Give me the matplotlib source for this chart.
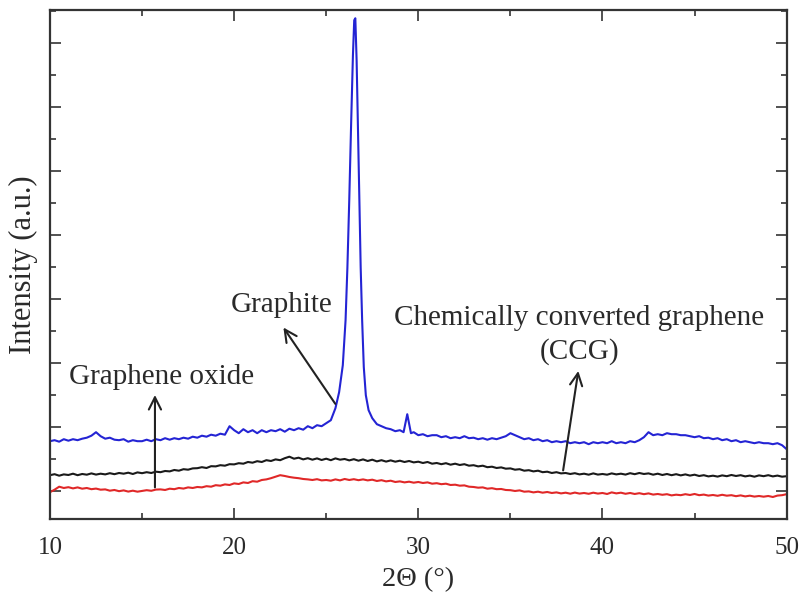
import matplotlib
matplotlib.use("Agg")
import matplotlib.pyplot as plt
from matplotlib.ticker import FixedLocator, MultipleLocator

plt.rcParams["font.family"] = ["Liberation Serif", "DejaVu Serif"]

# XRD patterns, 2-theta in degrees, intensity in arbitrary counts
two_theta = [
    10.0, 10.25, 10.5, 10.75, 11.0, 11.25, 11.5, 11.75, 12.0, 12.25, 12.5, 12.75,
    13.0, 13.25, 13.5, 13.75, 14.0, 14.25, 14.5, 14.75, 15.0, 15.25, 15.5, 15.75,
    16.0, 16.25, 16.5, 16.75, 17.0, 17.25, 17.5, 17.75, 18.0, 18.25, 18.5, 18.75,
    19.0, 19.25, 19.5, 19.75, 20.0, 20.25, 20.5, 20.75, 21.0, 21.25, 21.5, 21.75,
    22.0, 22.25, 22.5, 22.75, 23.0, 23.25, 23.5, 23.75, 24.0, 24.25, 24.5, 24.75,
    25.0, 25.25, 25.5, 25.75, 26.0, 26.25, 26.5, 26.75, 27.0, 27.25, 27.5, 27.75,
    28.0, 28.25, 28.5, 28.75, 29.0, 29.25, 29.5, 29.75, 30.0, 30.25, 30.5, 30.75,
    31.0, 31.25, 31.5, 31.75, 32.0, 32.25, 32.5, 32.75, 33.0, 33.25, 33.5, 33.75,
    34.0, 34.25, 34.5, 34.75, 35.0, 35.25, 35.5, 35.75, 36.0, 36.25, 36.5, 36.75,
    37.0, 37.25, 37.5, 37.75, 38.0, 38.25, 38.5, 38.75, 39.0, 39.25, 39.5, 39.75,
    40.0, 40.25, 40.5, 40.75, 41.0, 41.25, 41.5, 41.75, 42.0, 42.25, 42.5, 42.75,
    43.0, 43.25, 43.5, 43.75, 44.0, 44.25, 44.5, 44.75, 45.0, 45.25, 45.5, 45.75,
    46.0, 46.25, 46.5, 46.75, 47.0, 47.25, 47.5, 47.75, 48.0, 48.25, 48.5, 48.75,
    49.0, 49.25, 49.5, 49.75, 50.0,
]

ccg = [
    440, 450, 435, 448, 442, 455, 440, 452, 445, 458, 446, 455,
    448, 460, 450, 462, 455, 465, 452, 468, 460, 470, 462, 475,
    470, 482, 478, 492, 485, 500, 495, 508, 510, 520, 512, 530,
    528, 540, 535, 550, 548, 560, 555, 572, 565, 580, 572, 590,
    582, 598, 590, 610, 625, 605, 615, 598, 610, 595, 608, 592,
    605, 590, 608, 595, 602, 588, 600, 585, 598, 582, 595, 578,
    590, 576, 588, 575, 585, 572, 582, 568, 575, 562, 572, 555,
    562, 550, 560, 545, 555, 542, 550, 535, 540, 528, 535, 520,
    525, 512, 518, 505, 508, 495, 500, 485, 490, 478, 485, 470,
    475, 462, 470, 458, 462, 452, 460, 448, 455, 445, 458, 446,
    452, 445, 458, 448, 455, 446, 460, 450, 462, 452, 458, 445,
    455, 442, 452, 440, 450, 438, 448, 436, 445, 432, 440, 428,
    435, 426, 438, 430, 442, 432, 440, 428, 436, 425, 438, 430,
    440, 428, 436, 425, 430,
]

graphene_oxide = [
    270, 295, 325, 312, 320, 308, 318, 305, 312, 300, 306, 295,
    298, 285, 292, 280, 288, 276, 285, 275, 282, 290, 284, 296,
    298, 292, 305, 300, 312, 306, 318, 312, 322, 318, 330, 325,
    340, 335, 348, 342, 358, 352, 368, 362, 380, 375, 392, 398,
    410, 425, 440, 432, 422, 415, 410, 402, 398, 392, 400, 388,
    392, 385, 398, 388, 402, 392, 400, 390, 398, 388, 395, 382,
    390, 378, 385, 372, 378, 368, 375, 365, 372, 362, 368, 355,
    360, 350, 355, 342, 345, 335, 338, 325, 322, 315, 318, 305,
    310, 300, 302, 292, 290, 282, 288, 275, 278, 268, 275, 265,
    272, 262, 268, 258, 265, 255, 266, 256, 262, 254, 265, 256,
    262, 252, 268, 258, 265, 254, 262, 252, 260, 250, 258, 246,
    252, 244, 250, 238, 245, 240, 250, 242, 252, 240, 246, 236,
    242, 234, 244, 235, 240, 230, 238, 228, 235, 226, 232, 225,
    232, 222, 236, 240, 250,
]

# graphite is sampled more finely around the (002) reflection
two_theta_graphite = [
    10.0, 10.25, 10.5, 10.75, 11.0, 11.25, 11.5, 11.75, 12.0, 12.25, 12.5, 12.75,
    13.0, 13.25, 13.5, 13.75, 14.0, 14.25, 14.5, 14.75, 15.0, 15.25, 15.5, 15.75,
    16.0, 16.25, 16.5, 16.75, 17.0, 17.25, 17.5, 17.75, 18.0, 18.25, 18.5, 18.75,
    19.0, 19.25, 19.5, 19.75, 20.0, 20.25, 20.5, 20.75, 21.0, 21.25, 21.5, 21.75,
    22.0, 22.25, 22.5, 22.75, 23.0, 23.25, 23.5, 23.75, 24.0, 24.25, 24.5, 24.75,
    25.0, 25.25, 25.5, 25.7, 25.9, 26.05, 26.15, 26.25, 26.35, 26.45, 26.52, 26.58,
    26.65, 26.73, 26.8, 26.87, 26.95, 27.04, 27.15, 27.3, 27.5, 27.75,
    28.0, 28.25, 28.5, 28.75, 29.0, 29.2, 29.4, 29.6, 29.75, 30.0, 30.25, 30.5, 30.75,
    31.0, 31.25, 31.5, 31.75, 32.0, 32.25, 32.5, 32.75, 33.0, 33.25, 33.5, 33.75,
    34.0, 34.25, 34.5, 34.75, 35.0, 35.25, 35.5, 35.75, 36.0, 36.25, 36.5, 36.75,
    37.0, 37.25, 37.5, 37.75, 38.0, 38.25, 38.5, 38.75, 39.0, 39.25, 39.5, 39.75,
    40.0, 40.25, 40.5, 40.75, 41.0, 41.25, 41.5, 41.75, 42.0, 42.25, 42.5, 42.75,
    43.0, 43.25, 43.5, 43.75, 44.0, 44.25, 44.5, 44.75, 45.0, 45.25, 45.5, 45.75,
    46.0, 46.25, 46.5, 46.75, 47.0, 47.25, 47.5, 47.75, 48.0, 48.25, 48.5, 48.75,
    49.0, 49.25, 49.5, 49.75, 50.0,
]

graphite = [
    780, 790, 775, 800, 785, 800, 790, 805, 815, 835, 870, 830,
    805, 815, 795, 790, 800, 775, 790, 780, 780, 795, 780, 800,
    790, 810, 795, 810, 800, 815, 805, 825, 815, 835, 825, 845,
    835, 855, 845, 930, 890, 860, 900, 870, 890, 860, 890, 870,
    890, 880, 900, 875, 905, 890, 910, 895, 930, 910, 940, 930,
    960, 990, 1110, 1270, 1540, 1990, 2520, 3190, 3940, 4640, 4990, 5010,
    4590, 3860, 3190, 2520, 1990, 1520, 1240, 1090, 1010, 950,
    930, 910, 900, 880, 890, 870, 1050, 860, 870, 840, 850, 830, 840,
    840, 820, 830, 810, 820, 810, 830, 810, 815, 800, 810, 795,
    810, 800, 815, 830, 860, 840, 820, 800, 810, 790, 800, 780,
    790, 770, 780, 770, 780, 760, 770, 760, 770, 750, 770, 760,
    770, 760, 780, 760, 770, 760, 780, 770, 790, 820, 870, 840,
    850, 840, 860, 850, 850, 840, 840, 830, 820, 830, 810, 815,
    800, 810, 790, 800, 780, 790, 770, 780, 770, 760, 770, 760,
    760, 750, 760, 740, 700,
]

x_ticks = [10, 20, 30, 40, 50]

fig = plt.figure(figsize=(8.06, 6.03), dpi=100)
ax = fig.add_axes([0.062, 0.139, 0.914, 0.844])

ax.plot(two_theta_graphite, graphite, color="#2424d4", lw=1.5)
ax.plot(two_theta, ccg, color="#1a1a1a", lw=1.5)
ax.plot(two_theta, graphene_oxide, color="#e02828", lw=1.5)

ax.set_xlim(10, 50)
ax.set_ylim(0, 5090)
ax.xaxis.set_major_locator(FixedLocator(x_ticks))
ax.xaxis.set_minor_locator(MultipleLocator(5))
ax.yaxis.set_major_locator(FixedLocator([280 + 641 * k for k in range(8)]))
ax.yaxis.set_minor_locator(FixedLocator([600 + 641 * k for k in range(8)]))
ax.set_yticklabels([])

ax.tick_params(which="both", direction="in", top=True, right=True,
               color="#333333", width=1.2)
ax.tick_params(which="major", length=8, labelsize=18, pad=13, labelcolor="#2a2a2a")
ax.tick_params(which="minor", length=4)
for s in ax.spines.values():
    s.set_linewidth(1.6)
    s.set_color("#333333")

ax.set_xlabel("2Θ (°)", fontsize=20.5, color="#2a2a2a", labelpad=6)
ax.set_ylabel("Intensity (a.u.)", fontsize=22, color="#2a2a2a", va="center")
ax.yaxis.set_label_coords(-0.036, 0.5)

arrow = dict(arrowstyle="->", color="#222222", lw=1.5, mutation_scale=22)
txt = dict(fontsize=21, color="#2a2a2a", ha="center", va="baseline")

ax.text(16.08, 1350, "Graphene oxide", **txt)
ax.annotate("", xy=(15.7, 1270), xytext=(15.7, 290), arrowprops=arrow)

ax.text(22.59, 2070, "Graphite", **txt)
ax.annotate("", xy=(22.59, 1940), xytext=(25.58, 1130), arrowprops=arrow)

ax.text(38.74, 1940, "Chemically converted graphene", **txt)
ax.text(38.77, 1610, "(CCG)", **txt)
ax.annotate("", xy=(38.71, 1510), xytext=(37.84, 460), arrowprops=arrow)

fig.savefig("out.png", dpi=100)
